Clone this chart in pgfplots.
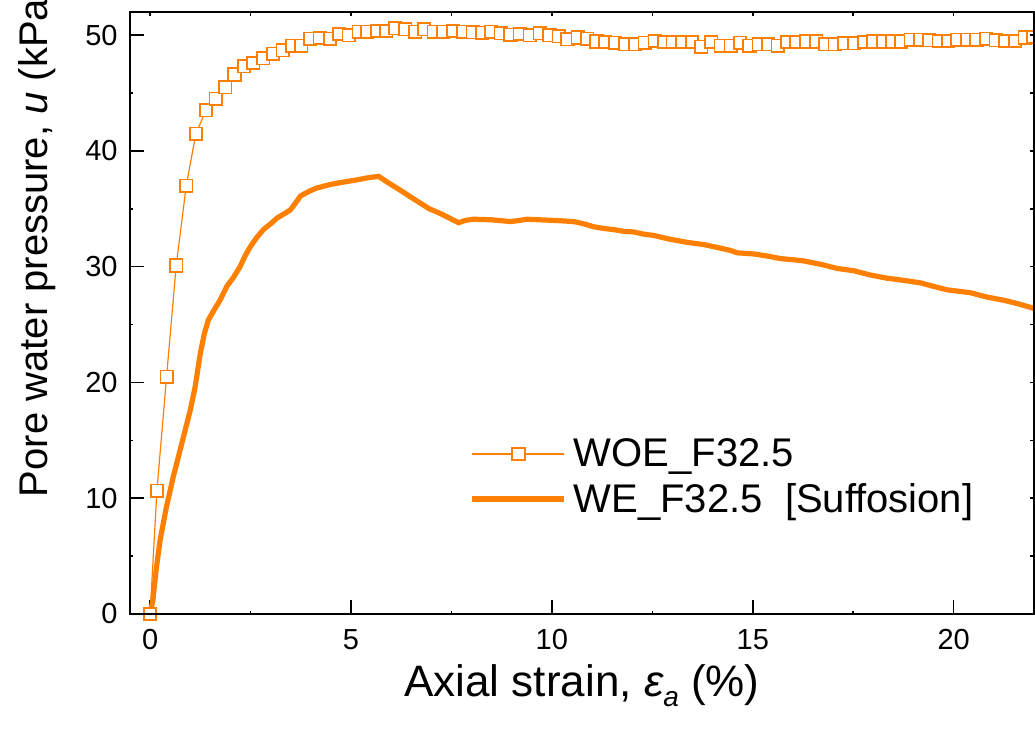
\documentclass[border=0pt]{standalone}
\usepackage{fontspec}
\setmainfont{Liberation Sans}
\usepackage{pgfplots}
\pgfplotsset{compat=1.18}
\definecolor{orng}{RGB}{255,128,0}
\begin{document}
\begin{tikzpicture}
\begin{axis}[
  scale only axis, width=452pt, height=301pt,
  xmin=-0.5, xmax=22, ymin=0, ymax=52,
  xtick={0,5,10,15,20}, ytick={0,10,20,30,40,50},
  minor xtick={2.5,7.5,12.5,17.5}, minor ytick={5,15,25,35,45},
  tick align=inside, xtick pos=bottom, ytick pos=left,
  major tick length=7pt, minor tick length=1.5pt,
  axis line style={line width=0.8pt},
  every tick/.style={black, line width=0.8pt},
  /pgf/number format/assume math mode=true,
  tick label style={font=\fontsize{14.5}{17}\selectfont},
  xticklabel style={yshift=-4pt},
  yticklabel style={xshift=-2.7pt},
  xlabel={Axial strain, {\itshape ε}\raisebox{-0.45ex}{\fontsize{14}{14}\selectfont\itshape a} (\%)},
  ylabel={Pore water pressure, \textit{u} (kPa)},
  xlabel style={font=\fontsize{22}{26}\selectfont, at={(axis description cs:0.5,0)}, anchor=base, yshift=-41pt},
  ylabel style={font=\fontsize{20}{24}\selectfont, at={(axis description cs:-0.0918,0.619)}, anchor=base},
  legend style={draw=none, fill=none, at={(axis description cs:0.3755,0.228)}, anchor=west,
    font=\fontsize{20}{24}\selectfont, inner sep=0pt, nodes={inner sep=3.4pt}},
  legend cell align=left,
  legend image code/.code={\draw[mark repeat=2,mark phase=2,#1] plot coordinates {(0pt,0pt) (23pt,0pt) (46pt,0pt)};},
]
\addplot[color=orng, line width=0.6pt, mark=square*, mark size=3.1pt,
  mark options={fill=white, draw=orng, line width=0.85pt, solid}] coordinates {
(0,0) (0.17,10.65) (0.41,20.5) (0.65,30.1) (0.90,37.0) (1.14,41.5) (1.39,43.5) (1.63,44.5)
(1.87,45.5) (2.10,46.6) (2.34,47.3) (2.57,47.6) (2.82,48.0) (3.06,48.4) (3.30,48.7) (3.53,49.1)
(3.76,49.1) (3.99,49.7) (4.22,49.75) (4.48,49.7) (4.71,50.1) (4.94,50.0) (5.19,50.3) (5.40,50.3)
(5.66,50.35) (5.88,50.35) (6.10,50.6) (6.35,50.5) (6.60,50.3) (6.82,50.5) (7.06,50.3) (7.30,50.3)
(7.55,50.35) (7.80,50.3) (8.03,50.25) (8.26,50.2) (8.49,50.3) (8.73,50.15) (8.97,50.05) (9.20,50.1)
(9.45,50.0) (9.70,50.15) (9.94,50.0) (10.17,49.9) (10.39,49.65) (10.64,49.8) (10.88,49.7) (11.11,49.45)
(11.33,49.4) (11.58,49.35) (11.83,49.2) (12.08,49.2) (12.31,49.35) (12.56,49.5) (12.79,49.4) (13.01,49.4)
(13.24,49.4) (13.49,49.4) (13.72,49.0) (13.97,49.4) (14.20,49.1) (14.45,49.1) (14.68,49.35) (14.92,49.1)
(15.15,49.2) (15.38,49.2) (15.62,49.1) (15.86,49.4) (16.09,49.4) (16.33,49.45) (16.58,49.45) (16.81,49.2)
(17.04,49.2) (17.27,49.3) (17.52,49.3) (17.77,49.4) (18.00,49.45) (18.24,49.45) (18.47,49.45) (18.70,49.45)
(18.93,49.6) (19.16,49.6) (19.39,49.55) (19.63,49.5) (19.87,49.5) (20.09,49.6) (20.34,49.6) (20.57,49.6)
(20.81,49.7) (21.05,49.55) (21.28,49.5) (21.53,49.5) (21.77,49.8) (21.98,49.85)
};
\addlegendentry{WOE\_F32.5}
\addplot[color=orng, line width=2.6pt, no marks] coordinates {
(0,0) (0.07,1.2) (0.15,3.8) (0.25,6.4) (0.41,9.3) (0.58,11.9) (0.75,14.2) (1.0,17.6) (1.12,19.6)
(1.25,22.5) (1.35,24.2) (1.45,25.4) (1.6,26.3) (1.74,27.1) (1.91,28.3) (2.08,29.1) (2.24,30.0)
(2.36,30.9) (2.49,31.7) (2.65,32.5) (2.82,33.2) (3.0,33.7) (3.16,34.2) (3.35,34.6) (3.49,34.9)
(3.6,35.4) (3.74,36.1) (3.95,36.5) (4.15,36.8) (4.48,37.1) (4.8,37.3) (5.15,37.5) (5.45,37.7)
(5.69,37.8) (5.95,37.2) (6.23,36.6) (6.45,36.1) (6.72,35.5) (6.95,35.0) (7.22,34.6) (7.45,34.2)
(7.68,33.8) (7.85,34.0) (8.05,34.1) (8.5,34.05) (8.97,33.9) (9.2,34.0) (9.38,34.1) (9.7,34.05)
(10.04,34.0) (10.3,33.95) (10.54,33.9) (10.8,33.7) (11.04,33.45) (11.3,33.3) (11.54,33.2) (11.8,33.05)
(12.04,33.0) (12.3,32.8) (12.54,32.7) (12.9,32.4) (13.37,32.1) (13.8,31.9) (14.2,31.6) (14.45,31.4)
(14.61,31.2) (15.03,31.1) (15.4,30.9) (15.69,30.7) (16.0,30.6) (16.27,30.5) (16.7,30.2) (17.10,29.85)
(17.52,29.65) (17.9,29.3) (18.35,29.0) (18.8,28.8) (19.18,28.6) (19.5,28.3) (19.84,28.0) (20.42,27.75)
(20.8,27.4) (21.25,27.1) (21.6,26.8) (22.0,26.4)
};
\addlegendentry{WE\_F32.5\ \ [Suffosion]}
\end{axis}
\begin{axis}[
  scale only axis, width=452pt, height=301pt,
  xmin=-0.5, xmax=22, ymin=0, ymax=52,
  xtick={0,2.5,...,20}, ytick={0,5,...,50},
  xtick pos=top, ytick pos=right, tick align=inside,
  major tick length=2pt, xticklabels={}, yticklabels={},
  axis line style={line width=0.8pt},
  every tick/.style={black, line width=0.8pt},
]
\end{axis}
\pgfresetboundingbox
\useasboundingbox (-65pt,-60.5pt) rectangle (452.5pt,307pt);
\end{tikzpicture}
\end{document}
